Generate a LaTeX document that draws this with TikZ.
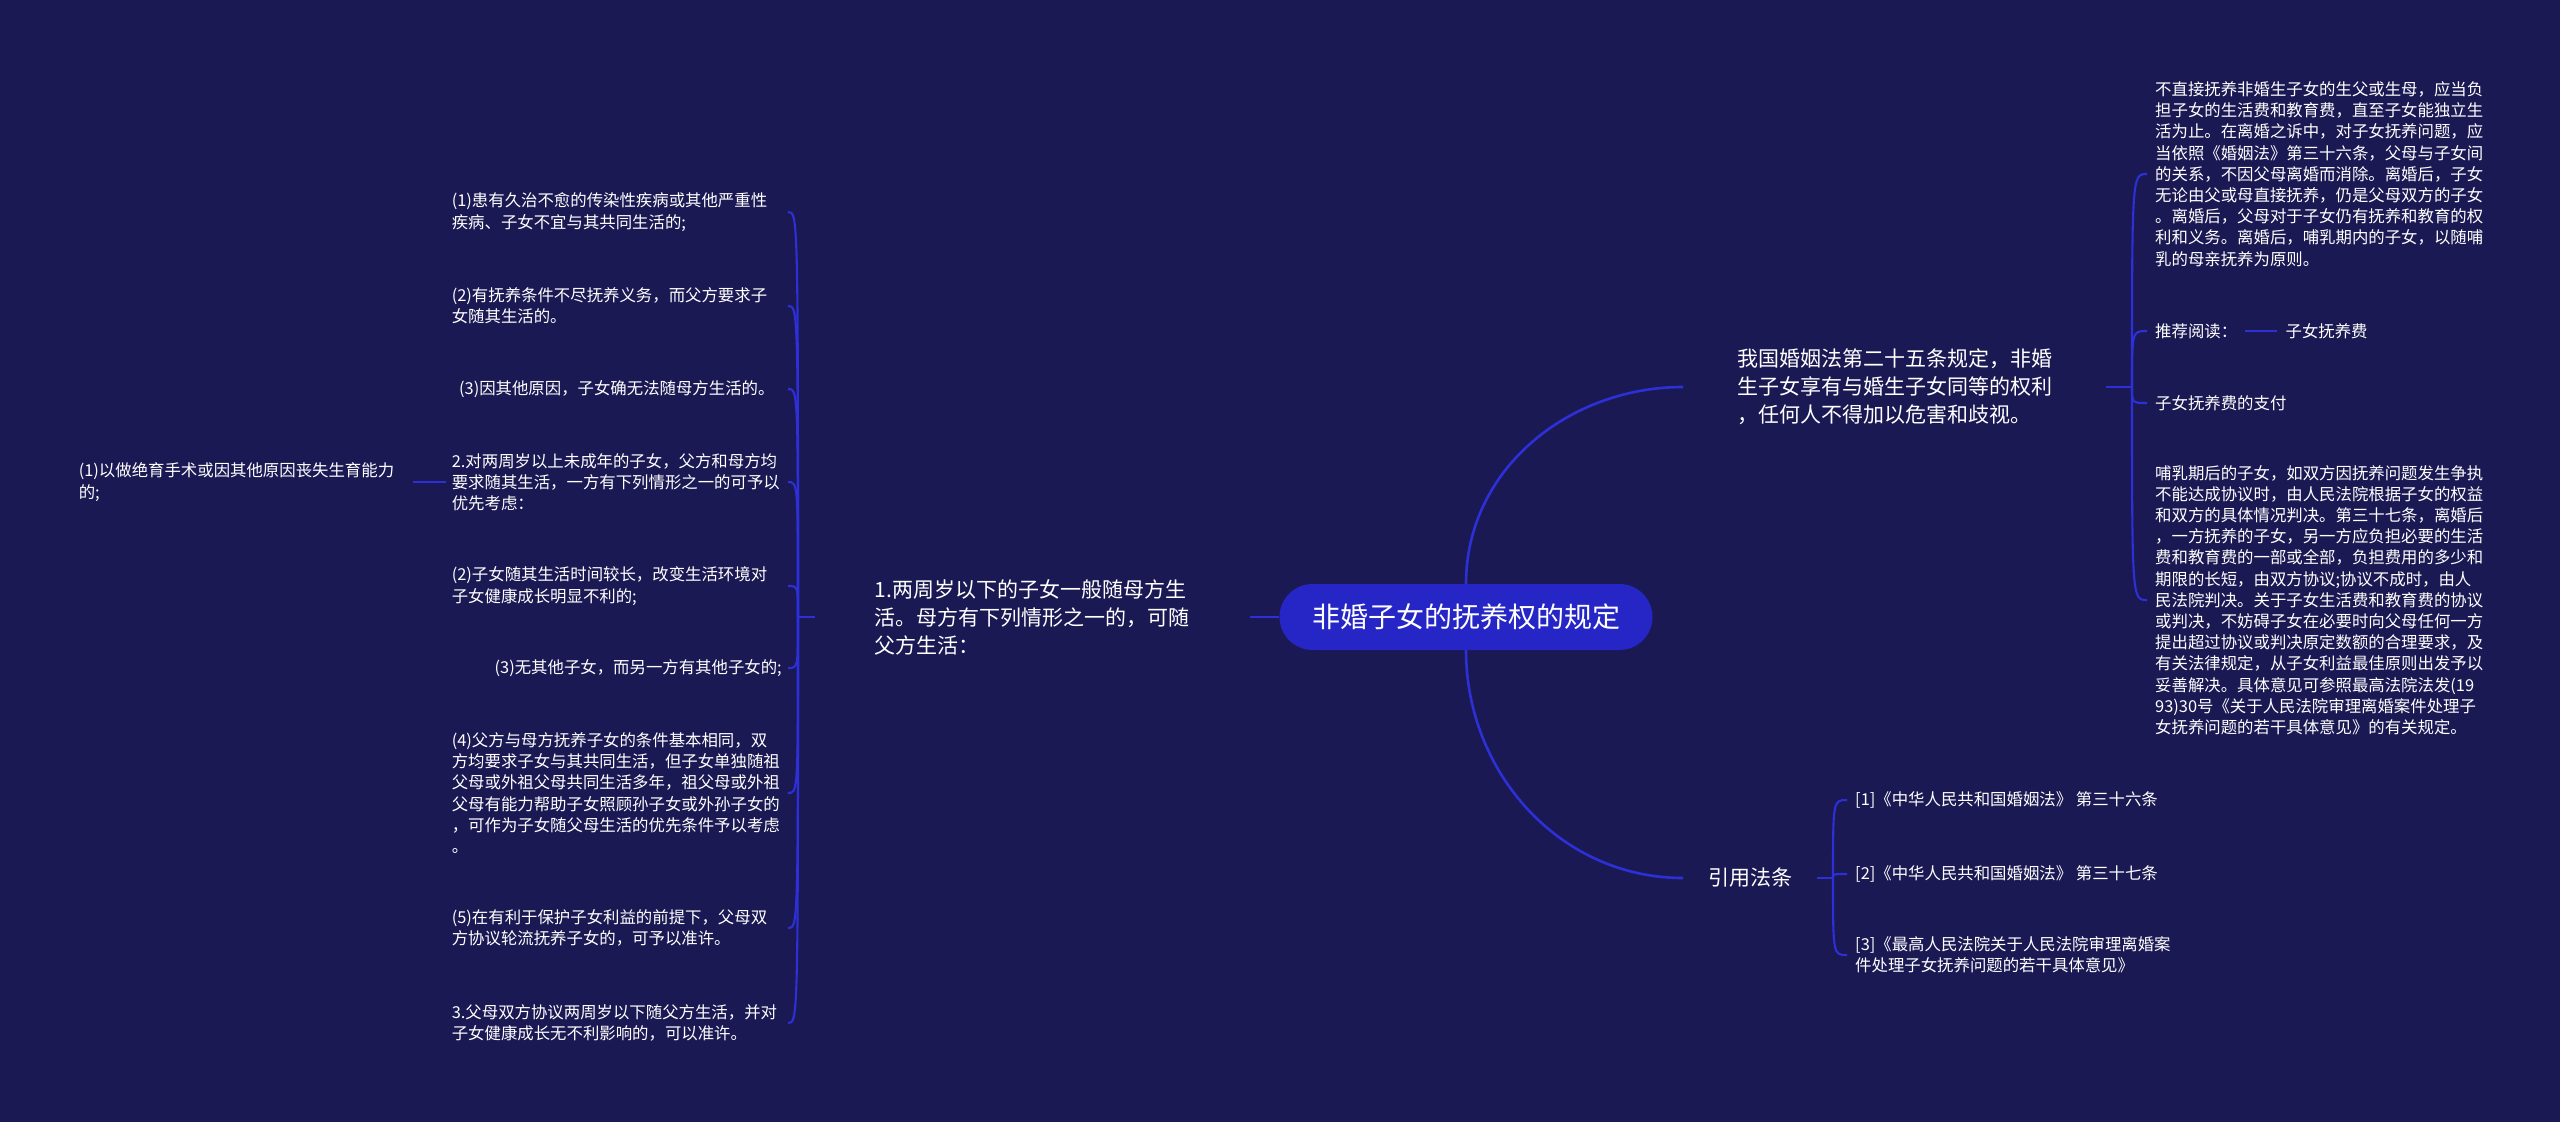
\documentclass[tikz,border=0pt]{standalone}
\usepackage{fontspec}
\setmainfont{Noto Sans CJK SC}
\usetikzlibrary{positioning}
\definecolor{bgnavy}{RGB}{27,25,83}
\definecolor{rootblue}{RGB}{38,38,198}
\definecolor{linkblue}{RGB}{44,48,214}

\begin{document}
\begin{tikzpicture}[x=1pt,y=-1pt,
  rootnode/.style={rounded corners=33pt,fill=rootblue,text=white,minimum width=373pt,minimum height=66pt,font=\fontsize{28}{34}\selectfont},
  topic/.style={text=white,align=left,inner ysep=4pt,font=\fontsize{21}{28}\selectfont},
  leaf/.style={text=white,align=left,inner xsep=6pt,inner ysep=3pt,font=\fontsize{16.4}{21.2}\selectfont},
  lleaf/.style={leaf,anchor=east,text width=330pt},
  rleaf/.style={leaf,anchor=west,inner xsep=8pt},
  mainlink/.style={draw=linkblue,line width=2.6pt},
  link/.style={draw=linkblue,line width=2.1pt}]
\fill[bgnavy] (0,0) rectangle (2560,1122);
\useasboundingbox (0,0) rectangle (2560,1122);

\node[rootnode] (root) at (1466,617) {非婚子女的抚养权的规定};

% left branch
\node[topic,anchor=east,inner xsep=60pt] (n1) at (1250,617)
 {1.两周岁以下的子女一般随母方生\\活。母方有下列情形之一的，可随\\父方生活：};
\coordinate (lt) at (798,617);
\node[lleaf] (c1) at (788,212) {(1)患有久治不愈的传染性疾病或其他严重性\\疾病、子女不宜与其共同生活的;};
\node[lleaf] (c2) at (788,306) {(2)有抚养条件不尽抚养义务，而父方要求子\\女随其生活的。};
\node[lleaf,align=center] (c3) at (788,389) {(3)因其他原因，子女确无法随母方生活的。};
\node[lleaf] (c4) at (788,482) {2.对两周岁以上未成年的子女，父方和母方均\\要求随其生活，一方有下列情形之一的可予以\\优先考虑：};
\node[lleaf] (c5) at (788,586) {(2)子女随其生活时间较长，改变生活环境对\\子女健康成长明显不利的;};
\node[lleaf,align=right] (c6) at (788,668) {(3)无其他子女，而另一方有其他子女的;};
\node[lleaf] (c7) at (788,793) {(4)父方与母方抚养子女的条件基本相同，双\\方均要求子女与其共同生活，但子女单独随祖\\父母或外祖父母共同生活多年，祖父母或外祖\\父母有能力帮助子女照顾孙子女或外孙子女的\\，可作为子女随父母生活的优先条件予以考虑\\。};
\node[lleaf] (c8) at (788,928) {(5)在有利于保护子女利益的前提下，父母双\\方协议轮流抚养子女的，可予以准许。};
\node[lleaf] (c9) at (788,1023) {3.父母双方协议两周岁以下随父方生活，并对\\子女健康成长无不利影响的，可以准许。};
\node[lleaf,text width=320pt,inner xsep=14pt] (g1) at (413,482) {(1)以做绝育手术或因其他原因丧失生育能力\\的;};

\draw[mainlink] (root.west) -- (n1.east);
\draw[link] (n1.west) -- (lt);
\foreach \c in {c1,c2,c3,c4,c5,c6,c7,c8,c9}
  \draw[link] (lt) .. controls (lt |- \c.east) .. (\c.east);
\draw[link] (c4.west) -- (g1.east);

% right branch, top
\node[topic,anchor=west,inner xsep=54pt] (a) at (1683,387)
 {我国婚姻法第二十五条规定，非婚\\生子女享有与婚生子女同等的权利\\，任何人不得加以危害和歧视。};
\coordinate (rt) at (2132,387);
\node[rleaf] (a1) at (2147,174) {不直接抚养非婚生子女的生父或生母，应当负\\担子女的生活费和教育费，直至子女能独立生\\活为止。在离婚之诉中，对子女抚养问题，应\\当依照《婚姻法》第三十六条，父母与子女间\\的关系，不因父母离婚而消除。离婚后，子女\\无论由父或母直接抚养，仍是父母双方的子女\\。离婚后，父母对于子女仍有抚养和教育的权\\利和义务。离婚后，哺乳期内的子女，以随哺\\乳的母亲抚养为原则。};
\node[rleaf] (a2) at (2147,331) {推荐阅读：};
\node[rleaf,right=32pt of a2] (a2b) {子女抚养费};
\node[rleaf] (a3) at (2147,403) {子女抚养费的支付};
\node[rleaf] (a4) at (2147,600) {哺乳期后的子女，如双方因抚养问题发生争执\\不能达成协议时，由人民法院根据子女的权益\\和双方的具体情况判决。第三十七条，离婚后\\，一方抚养的子女，另一方应负担必要的生活\\费和教育费的一部或全部，负担费用的多少和\\期限的长短，由双方协议;协议不成时，由人\\民法院判决。关于子女生活费和教育费的协议\\或判决，不妨碍子女在必要时向父母任何一方\\提出超过协议或判决原定数额的合理要求，及\\有关法律规定，从子女利益最佳原则出发予以\\妥善解决。具体意见可参照最高法院法发(19\\93)30号《关于人民法院审理离婚案件处理子\\女抚养问题的若干具体意见》的有关规定。};

\draw[mainlink] (root.north) to[out=90,in=180] (a.west);
\draw[link] (a.east) -- (rt);
\foreach \c in {a1,a2,a3,a4}
  \draw[link] (rt) .. controls (rt |- \c.west) .. (\c.west);
\draw[link] (a2.east) -- (a2b.west);

% right branch, bottom
\node[topic,anchor=west,inner xsep=25pt] (b) at (1683,878) {引用法条};
\coordinate (bt) at (1833,878);
\node[rleaf] (b1) at (1847,800) {[1]《中华人民共和国婚姻法》 第三十六条};
\node[rleaf] (b2) at (1847,874) {[2]《中华人民共和国婚姻法》 第三十七条};
\node[rleaf] (b3) at (1847,955) {[3]《最高人民法院关于人民法院审理离婚案\\件处理子女抚养问题的若干具体意见》};

\draw[mainlink] (root.south) to[out=270,in=180] (b.west);
\draw[link] (b.east) -- (bt);
\foreach \c in {b1,b2,b3}
  \draw[link] (bt) .. controls (bt |- \c.west) .. (\c.west);
\end{tikzpicture}
\end{document}
